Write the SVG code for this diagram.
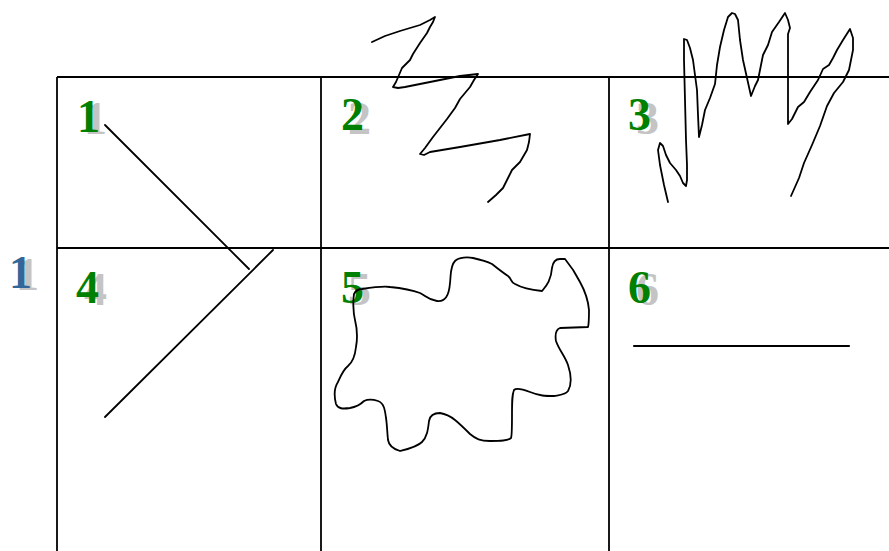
<svg xmlns="http://www.w3.org/2000/svg" width="889" height="551" viewBox="0 0 889 551">
<style>
.grid{stroke:#000;stroke-width:1.8;fill:none}
.ink{stroke:#000;stroke-width:1.8;fill:none;stroke-linejoin:round;stroke-linecap:round}
.num{font-family:"Liberation Serif","Times New Roman",serif;font-weight:bold;font-size:46px}
.sh{fill:#c4c4c4}
.g{fill:#008000}
.b{fill:#336699}
</style>
<rect width="889" height="551" fill="#fff"/>
<g id="grid">
<line class="grid" x1="57" y1="77" x2="889" y2="77"/>
<line class="grid" x1="57" y1="248" x2="889" y2="248"/>
<line class="grid" x1="57" y1="77" x2="57" y2="551"/>
<line class="grid" x1="321" y1="77" x2="321" y2="551"/>
<line class="grid" x1="609" y1="77" x2="609" y2="551"/>
</g>
<g id="row-label">
<text class="num sh" x="16" y="290">1</text>
<text class="num b" x="9" y="288">1</text>
</g>
<g id="cell1">
<text class="num sh" x="84" y="134">1</text>
<text class="num g" x="77" y="132">1</text>
<line class="ink" x1="105" y1="125" x2="249" y2="269"/>
</g>
<g id="cell2">
<text class="num sh" x="348" y="134">2</text>
<text class="num g" x="341" y="130">2</text>
<polyline class="ink" points="372,42 385,36 400,31 420,25 430,20 435,17 433,22 430,27 427,33 420,43 413,54 410,60 406,64 402,68 399,75 396,82 393,87 398,88 405,87 415,85 430,82 445,79 460,76 478,74 474,80 470,87 465,93 460,99 455,108 447,119 440,128 433,137 425,148 420,154 424,155 430,152 460,147 500,140 530,134 529,142 527,150 520,162 512,170 508,178 503,188 496,195 488,202"/>
</g>
<g id="cell3">
<text class="num sh" x="636" y="134">3</text>
<text class="num g" x="628" y="130">3</text>
<polyline class="ink" points="668,202 664,185 660,165 658,150 660,143 663,146 666,155 670,163 676,170 680,176 683,183 686,186 687,180 687,165 686,140 685,100 684,60 684,39 687,40 690,48 693,60 695,75 697,90 698,115 699,137 702,125 705,110 710,98 715,84 717,65 720,47 724,30 728,17 732,13 735,14 738,20 740,40 743,60 747,78 751,96 755,86 758,80 760,70 763,55 768,45 772,32 779,22 785,13 788,20 790,28 788,34 788,60 788,95 788,124 792,119 798,107 804,102 810,92 818,80 823,69 829,65 833,58 837,50 843,40 850,29 853,38 853,50 849,70 843,82 834,93 827,106 820,126 812,145 804,163 799,178 791,196"/>
</g>
<g id="cell4">
<text class="num sh" x="84" y="305">4</text>
<text class="num g" x="76" y="303">4</text>
<line class="ink" x1="273" y1="250" x2="105" y2="417"/>
</g>
<g id="cell5">
<text class="num sh" x="348" y="305">5</text>
<text class="num g" x="341" y="303">5</text>
<path class="ink" d="M362,289 C375,287 385,286 390,287 C400,288 412,290 420,293 C426,296 428,300 437,301 C445,302 449,296 450,283 C451,275 450,266 455,261 C459,257 468,257 473,258 C482,260 488,262 492,264 C497,268 502,272 508,276 C512,279 510,282 515,284 C522,288 532,290 542,291 C546,286 551,281 552,268 C553,261 556,259 560,259 L565,259 C570,265 576,274 580,282 C585,291 588,298 589,310 C589,318 589,324 588,327 L560,328 C555,330 555,335 556,341 C559,350 565,356 568,365 C571,374 572,384 568,391 C565,395 560,395 554,396 C545,396 540,396 530,392 C522,389 516,388 514,390 C512,395 512,400 512,415 C512,430 512,436 511,438 C508,441 500,441 490,441 C480,441 476,439 470,434 C465,429 460,424 455,420 C450,416 446,414 440,413 C434,413 430,415 429,421 C428,430 427,437 422,442 C417,447 408,449 400,451 C393,449 389,446 388,440 C387,430 387,424 386,418 C385,410 384,403 378,401 C372,399 368,399 364,401 C360,405 356,407 350,408 C343,409 338,409 336,404 C334,396 334,388 338,382 C341,375 343,370 348,366 C353,362 355,356 356,347 C358,336 357,328 355,320 C353,312 353,300 354,294 C356,290 359,289 362,289 Z"/>
</g>
<g id="cell6">
<text class="num sh" x="636" y="305">6</text>
<text class="num g" x="628" y="303">6</text>
<line class="ink" x1="634" y1="346" x2="849" y2="346" style="stroke-width:2.2"/>
</g>
</svg>
